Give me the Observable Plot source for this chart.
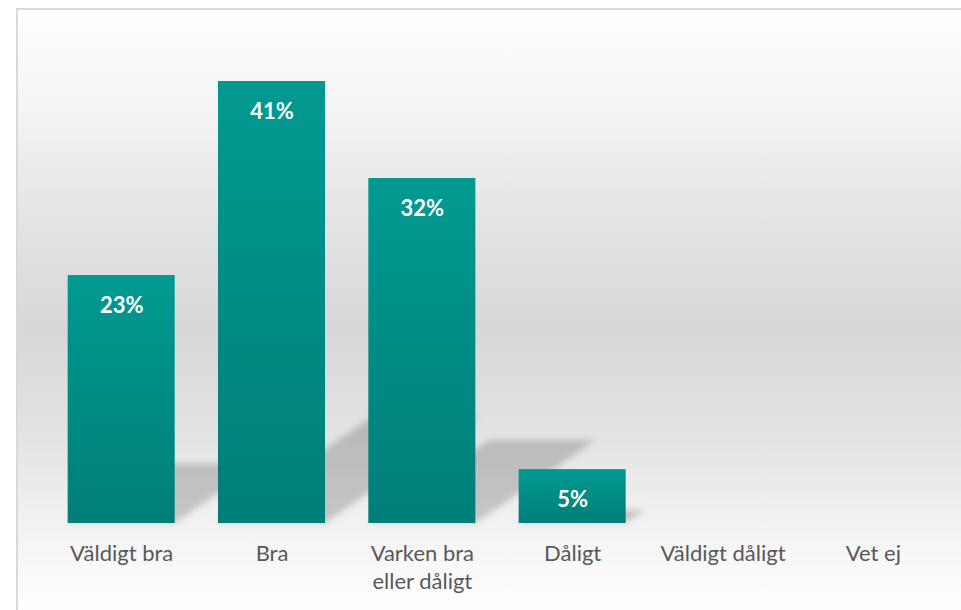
<!DOCTYPE html>
<html>
<head>
<meta charset="utf-8">
<script src="https://cdn.jsdelivr.net/npm/d3@7"></script>
<script src="https://cdn.jsdelivr.net/npm/@observablehq/plot@0.6"></script>
<style>
  html, body { margin: 0; padding: 0; background: #ffffff; }
  #wrap { position: relative; width: 961px; height: 610px; overflow: hidden; }
  #bg {
    position: absolute; left: 16px; top: 8px; width: 980px; height: 640px;
    border: 2px solid #d9d9d9; box-sizing: border-box;
    background: linear-gradient(to bottom, #ffffff 0%, #f4f4f4 16%, #e3e3e3 34%, #d8d8d8 50%, #e2e2e2 66%, #f3f3f3 82%, #fdfdfd 92%, #ffffff 100%);
  }
  #chart { position: absolute; left: 0; top: 0; }
</style>
</head>
<body>
<div id="wrap"><div id="bg"></div><div id="chart"></div></div>
<script>
const categories = ["Väldigt bra", "Bra", "Varken bra eller dåligt", "Dåligt", "Väldigt dåligt", "Vet ej"];
const tickLabels = ["Väldigt bra", "Bra", "Varken bra\neller dåligt", "Dåligt", "Väldigt dåligt", "Vet ej"];
const shares = [23, 41, 32, 5, 0, 0];
const shareLabels = ["23%", "41%", "32%", "5%", "", ""];

const rows = categories.map((c, i) => ({category: c, share: shares[i], label: shareLabels[i]}));
const labelOf = new Map(categories.map((c, i) => [c, tickLabels[i]]));

const NS = "http://www.w3.org/2000/svg";
function el(name, attrs) {
  const e = document.createElementNS(NS, name);
  for (const k in attrs) e.setAttribute(k, attrs[k]);
  return e;
}

function shadowMark(index, scales, vals, dims) {
  const g = el("g", {});
  const defs = el("defs", {});
  const grad = el("linearGradient", {id: "barGrad", x1: 0, y1: 0, x2: 0, y2: 1});
  grad.appendChild(el("stop", {offset: "0%", "stop-color": "#009a91"}));
  grad.appendChild(el("stop", {offset: "100%", "stop-color": "#007e79"}));
  defs.appendChild(grad);
  const filt = el("filter", {id: "blurShadow", x: "-20%", y: "-20%", width: "140%", height: "140%"});
  filt.appendChild(el("feGaussianBlur", {stdDeviation: 3}));
  defs.appendChild(filt);
  g.appendChild(defs);
  const x = scales.x;
  const bw = x.bandwidth ? x.bandwidth() : scales.scales.x.bandwidth;
  const sg = el("g", {filter: "url(#blurShadow)", fill: "#000", "fill-opacity": 0.18});
  rows.forEach(r => {
    if (!r.share) return;
    const x0 = x(r.category), x1 = x0 + bw;
    const yb = scales.y(0), yt = scales.y(r.share);
    const sh = 0.24 * (yb - yt), dx = 1.45 * sh;
    sg.appendChild(el("path", {d: `M${x0},${yb}L${x1},${yb}L${x1 + dx},${yb - sh}L${x0 + dx},${yb - sh}Z`}));
  });
  g.appendChild(sg);
  return g;
}

const chart = Plot.plot({
  width: 961,
  height: 610,
  marginLeft: 46,
  marginRight: 13,
  marginTop: 81,
  marginBottom: 87,
  style: {fontFamily: "Lato, 'Open Sans', sans-serif", color: "#595959", background: "transparent", overflow: "visible"},
  x: {domain: categories, paddingInner: 0.288, paddingOuter: 0.144, round: false, axis: null, label: null},
  y: {domain: [0, 41], axis: null},
  marks: [
    shadowMark,
    Plot.barY(rows.filter(d => d.share > 0), {x: "category", y: "share", fill: "url(#barGrad)"}),
    Plot.text(rows.filter(d => d.share > 0), {x: "category", y: "share", text: "label", dy: 30, fill: "white", fontWeight: "bold", fontSize: 22}),
    Plot.axisX({tickSize: 0, tickPadding: 18, fontSize: 22, lineHeight: 1.25, fill: "#595959", label: null, tickFormat: d => labelOf.get(d)})
  ]
});
document.getElementById("chart").appendChild(chart);
</script>
</body>
</html>
